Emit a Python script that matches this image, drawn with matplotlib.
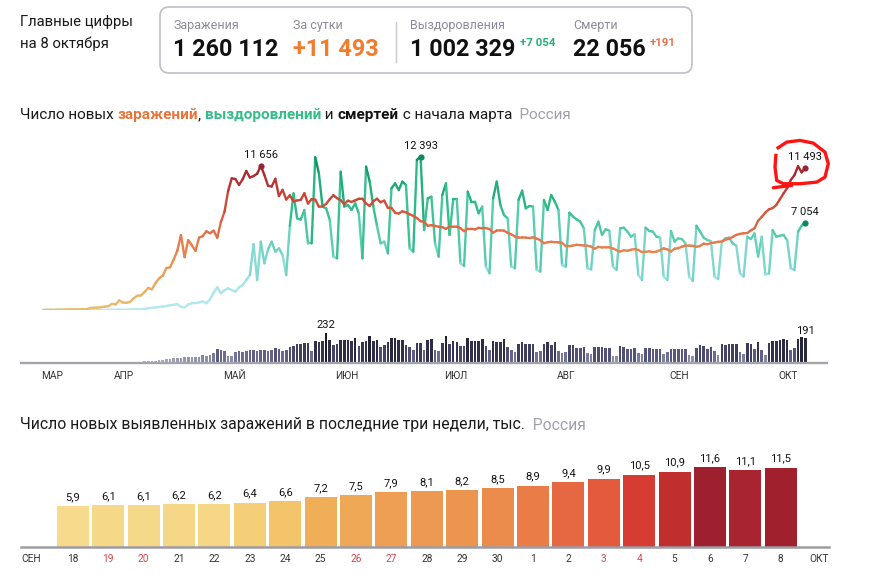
import datetime as dt
import numpy as np
import matplotlib
matplotlib.use("Agg")
import matplotlib.pyplot as plt
from matplotlib.collections import LineCollection
from matplotlib.colors import LinearSegmentedColormap, Normalize
from matplotlib.patches import FancyBboxPatch, Polygon
from matplotlib.lines import Line2D
from matplotlib.transforms import IdentityTransform

plt.rcParams['font.family'] = ['Roboto', 'DejaVu Sans']

# ---------------- данные (с 12 марта по 8 октября 2020) ----------------
start_date = dt.date(2020, 3, 12)

cases = [
    # март 12-31
    6, 11, 14, 4, 30, 21, 33, 52, 54, 53, 61, 71, 57, 163, 182, 196, 228, 270, 302, 500,
    # апрель
    440, 771, 601, 582, 658, 954, 1154, 1175, 1459, 1786, 1667, 2186, 2558, 2774, 3388,
    3448, 4070, 4785, 6060, 4268, 5642, 5236, 4774, 5849, 5966, 6361, 6198, 6411, 5841, 7099,
    # май
    7933, 9623, 10633, 10581, 10102, 10559, 11231, 10699, 10817, 11012, 11656, 10899, 10028,
    9974, 10598, 9200, 9709, 8926, 9263, 8764, 8849, 8894, 9434, 8599, 8946, 8915, 8338, 8371,
    8572, 8952, 9268,
    # июнь
    9035, 8863, 8536, 8831, 8726, 8855, 8984, 8985, 8595, 8404, 8779, 8987, 8706, 8835, 8246,
    8248, 7843, 7790, 7972, 7889, 7728, 7600, 7425, 7176, 7113, 6800, 6852, 6791, 6719, 6693,
    # июль
    6556, 6760, 6718, 6736, 6611, 6368, 6562, 6562, 6509, 6635, 6611, 6615, 6537, 6248, 6422,
    6428, 6406, 6234, 6109, 5940, 5842, 5862, 5848, 5811, 5871, 5765, 5635, 5395, 5475, 5509, 5482,
    # август
    5462, 5427, 5159, 5159, 5204, 5267, 5241, 5212, 5189, 5118, 4945, 5102, 5057, 5065, 5061,
    4969, 4839, 4718, 4828, 4785, 4870, 4921, 4852, 4676, 4696, 4744, 4676, 4711, 4829, 4980, 4897,
    # сентябрь
    4729, 4952, 4995, 5110, 5205, 5195, 5185, 5099, 5172, 5363, 5310, 5406, 5449, 5509, 5529,
    5670, 5762, 5905, 6065, 6148, 6196, 6215, 6431, 6595, 7212, 7523, 7867, 8135, 8232, 8481,
    # октябрь 1-8
    8945, 9412, 9859, 10499, 10888, 11615, 11115, 11493,
]

recovered = [
    0, 0, 1, 0, 3, 0, 1, 3, 5, 0, 2, 0, 9, 4, 13, 5, 12, 1, 17, 23,
    20, 45, 19, 24, 35, 45, 62, 52, 92, 150,
    180, 210, 250, 280, 320, 380, 420, 480, 250, 220,
    450, 540, 540, 620, 700, 540, 860, 1400, 1830, 1350,
    1600, 1750, 1600, 1480, 1830, 2000, 2420, 2830, 5330, 2420,
    5520, 3770, 4900, 5520, 4710, 4980, 4440, 2830, 6800, 9420,
    7400, 7300, 8080, 5380, 5380, 12330, 11040, 8350, 8210, 7270,
    4310, 4170, 11170, 8350, 8480, 8080, 8620, 7800, 4170, 11580,
    10370, 8350, 6800, 5380, 5520, 4580, 9830, 10230, 9690, 10370,
    10100, 4980, 4710, 12120, 12393, 6460, 9020, 9150, 5380, 4310,
    9290, 10230, 6060, 8940, 8940, 3770, 3550, 9560, 8750, 8750,
    7810, 8350, 3500, 2960, 9020, 10370, 8480, 7670, 7400, 3500,
    3370, 8890, 9640, 8210, 8400, 8350, 3230, 3100, 8890, 8080,
    9290, 8750, 8080, 3630, 3500, 7860, 7540, 7320, 7130, 6600,
    3370, 3280, 6460, 7130, 6060, 6520, 6410, 3500, 3230, 6600,
    6650, 6330, 5920, 6110, 2830, 2420, 6650, 6380, 6330, 5920,
    5840, 2690, 2420, 6380, 5520, 5790, 5730, 5380, 2690, 2340,
    6810, 6330, 5840, 5650, 5570, 2690, 2500, 5520, 5790, 5840,
    5380, 5200, 2960, 2690, 5920, 5730, 6190, 4310, 5920, 2880,
    2950, 6460, 5920, 6000, 6060, 5650, 3370, 3230, 6330, 6810,
    7054,
]

deaths = [
    0, 0, 0, 0, 0, 0, 0, 1, 0, 0,
    0, 0, 0, 1, 0, 1, 1, 1, 2, 8,
    2, 8, 6, 4, 2, 11, 7, 5, 13, 13,
    12, 18, 24, 22, 28, 33, 36, 40, 42, 45,
    48, 45, 50, 48, 65, 52, 62, 77, 108, 98,
    90, 57, 57, 83, 93, 88, 90, 98, 103, 90,
    98, 103, 90, 98, 116, 108, 90, 103, 124, 134,
    147, 147, 155, 155, 90, 173, 163, 168, 232, 181,
    138, 145, 178, 180, 176, 170, 197, 130, 165, 171,
    212, 174, 181, 124, 142, 160, 194, 194, 180, 175,
    142, 125, 103, 155, 155, 103, 175, 188, 103, 90,
    155, 212, 147, 168, 163, 134, 134, 194, 173, 173,
    173, 186, 129, 103, 173, 160, 163, 186, 124, 98,
    83, 150, 160, 150, 150, 147, 83, 90, 147, 165,
    142, 160, 93, 77, 83, 139, 137, 116, 116, 124,
    77, 72, 126, 126, 124, 116, 116, 57, 52, 129,
    121, 108, 111, 116, 77, 70, 116, 114, 108, 108,
    108, 70, 83, 111, 111, 111, 111, 111, 65, 52,
    116, 142, 129, 111, 121, 90, 59, 150, 139, 145,
    145, 150, 83, 72, 155, 150, 108, 165, 103, 65,
    155, 173, 168, 181, 186, 176, 103, 116, 186, 201,
    191,
]

total_cases = 1260112
total_recovered = 1002329
total_deaths = 22056

month_names = {3: "МАР", 4: "АПР", 5: "МАЙ", 6: "ИЮН", 7: "ИЮЛ", 8: "АВГ", 9: "СЕН", 10: "ОКТ"}
month_gen = {10: "октября"}
last_days = 21  # три недели

# ---------------- оформление ----------------
W, H = 869, 582
X0, DAY = 43, 3.63          # пиксель первого дня и шаг по дням
K_PX = 12.38 / 1000         # пикселей на одно заражение
D_PX = 30 / 232             # пикселей на одну смерть

fig = plt.figure(figsize=(W / 100, H / 100), dpi=100)
fig.patch.set_facecolor('white')


def axes_px(l, t, r, b):
    return fig.add_axes([l / W, 1 - b / H, (r - l) / W, (b - t) / H])


def txt(x, y, s, **kw):
    kw.setdefault('va', 'center')
    return fig.text(x / W, 1 - y / H, s, **kw)


def fmt(n):
    return f"{n:,}".replace(",", " ")


def rich(x, y, parts, size):
    r = fig.canvas.get_renderer()
    for s, c, w in parts:
        t = txt(x, y, s, color=c, fontsize=size, fontweight=w, ha='left')
        x += t.get_window_extent(r).width


n_days = len(cases)
last_date = start_date + dt.timedelta(days=n_days - 1)

# ---- шапка ----
txt(20, 22, "Главные цифры", fontsize=10.7, color='#1a1a1a')
txt(20, 44, f"на {last_date.day} {month_gen[last_date.month]}", fontsize=10.7, color='#1a1a1a')

box = FancyBboxPatch((160, H - 73), 532, 66, boxstyle="round,pad=0,rounding_size=9",
                     transform=IdentityTransform(), facecolor='white',
                     edgecolor='#bfc0c8', linewidth=1.2)
fig.add_artist(box)
fig.add_artist(Line2D([396 / W, 396 / W], [1 - 22 / H, 1 - 62 / H], color='#c8c8d0', lw=1))

grey = '#8b8b98'
txt(173, 25, "Заражения", fontsize=9, color=grey)
txt(293, 25, "За сутки", fontsize=9, color=grey)
txt(410, 25, "Выздоровления", fontsize=9, color=grey)
txt(573, 25, "Смерти", fontsize=9, color=grey)

big = dict(fontsize=16.8, fontweight='bold')
txt(173, 49, fmt(total_cases), color='#111111', **big)
txt(293, 49, "+" + fmt(cases[-1]), color='#f37b2b', **big)
txt(410, 49, fmt(total_recovered), color='#111111', **big)
txt(520, 43, "+" + fmt(recovered[-1]), color='#2aab78', fontsize=8.2, fontweight='bold')
txt(573, 49, fmt(total_deaths), color='#111111', **big)
txt(650, 43, "+" + fmt(deaths[-1]), color='#f0704a', fontsize=8.2, fontweight='bold')

# ---- заголовок графика ----
rich(20, 115, [("Число новых ", '#1a1a1a', 'normal'),
               ("заражений", '#e8743b', 'bold'),
               (", ", '#1a1a1a', 'normal'),
               ("выздоровлений", '#35bd88', 'bold'),
               (" и ", '#1a1a1a', 'normal'),
               ("смертей", '#111111', 'bold'),
               (" с начала марта", '#1a1a1a', 'normal'),
               ("  Россия", '#a0a0aa', 'normal')], 11)

# ---- линии ----
ax = axes_px(21, 140, 827, 310)
xlim = ((21 - X0) / DAY, (827 - X0) / DAY)
ax.set_xlim(*xlim)
ax.set_ylim(0, 170 / K_PX)
ax.axis('off')

cm_cases = LinearSegmentedColormap.from_list('cases', [
    (0.0, '#eabd6e'), (0.17, '#e9aa5e'), (0.35, '#e78c4f'), (0.5, '#e4744a'),
    (0.62, '#dc5e40'), (0.75, '#cc4636'), (0.88, '#b02f31'), (1.0, '#98222f')])
cm_rec = LinearSegmentedColormap.from_list('rec', [
    (0.0, '#b6e9f2'), (0.17, '#a8e3ea'), (0.3, '#8fdcda'), (0.42, '#69d1be'),
    (0.55, '#4bc8a4'), (0.7, '#2fbb89'), (0.85, '#1ca873'), (1.0, '#0d8f5f')])
norm_k = Normalize(0, 12000)


def grad_line(a, y, cmap, z):
    y = np.asarray(y, dtype=float)
    x = np.arange(len(y))
    pts = np.column_stack([x, y])
    segs = np.stack([pts[:-1], pts[1:]], axis=1)
    mid = (y[:-1] + y[1:]) / 2
    lc = LineCollection(segs, colors=cmap(norm_k(mid)), linewidths=1.7,
                        capstyle='round', joinstyle='round', zorder=z)
    a.add_collection(lc)


grad_line(ax, recovered, cm_rec, 2)
grad_line(ax, cases, cm_cases, 3)


def mark(a, i, v, color, label):
    a.scatter([i], [v], s=20, color=color, zorder=6, linewidths=0)
    a.annotate(label, (i, v), xytext=(0, 4), textcoords='offset points',
               ha='center', va='bottom', fontsize=8, color='#111111', zorder=7)


i_c = int(np.argmax(cases))
i_r = int(np.argmax(recovered))
mark(ax, i_c, cases[i_c], '#9b2335', fmt(cases[i_c]))
mark(ax, i_r, recovered[i_r], '#0b8a5a', fmt(recovered[i_r]))
mark(ax, n_days - 1, cases[-1], '#9b2335', fmt(cases[-1]))
mark(ax, n_days - 1, recovered[-1], '#0b8a5a', fmt(recovered[-1]))

# ---- смерти ----
axd = axes_px(21, 323, 827, 363)
axd.set_xlim(*xlim)
axd.set_ylim(0, 40 / D_PX)
axd.axis('off')
cm_d = LinearSegmentedColormap.from_list('d', ['#bdbdd2', '#8a8aa8', '#53537a', '#2f2f4a', '#191928'])
norm_d = Normalize(0, 232)
axd.bar(np.arange(n_days), deaths, width=0.72, color=cm_d(norm_d(np.array(deaths))), linewidth=0)
axd.axhline(0, color='#a3a3ab', lw=1.7, clip_on=False)
i_d = int(np.argmax(deaths))
for i in (i_d, n_days - 1):
    axd.annotate(str(deaths[i]), (i, deaths[i]), xytext=(0, 2), textcoords='offset points',
                 ha='center', va='bottom', fontsize=8, color='#111111')

for m in range(start_date.month, last_date.month + 1):
    idx = max((dt.date(2020, m, 1) - start_date).days, 0)
    axd.text(idx - 0.5, -13 / 40, month_names[m], transform=axd.get_xaxis_transform(),
             ha='left', va='center', fontsize=7.3, color='#333333')

# ---- нижний график: три недели ----
rich(20, 425, [("Число новых выявленных заражений в последние три недели, тыс.", '#1a1a1a', 'normal'),
               ("  Россия", '#a0a0aa', 'normal')], 11.3)

week_vals = [round(v / 1000, 1) for v in cases[-last_days:]]
week_dates = [last_date - dt.timedelta(days=last_days - 1 - k) for k in range(last_days)]

axb = axes_px(21, 440, 829, 547)
axb.set_xlim((21 - 72.8) / 35.4, (829 - 72.8) / 35.4)
axb.set_ylim(0, 107 / 6.9)
axb.axis('off')

cm_b = LinearSegmentedColormap.from_list('b', [
    (0.0, '#f7da8c'), (0.053, '#f6d787'), (0.123, '#f3c468'), (0.228, '#f0ae58'),
    (0.351, '#ee9f53'), (0.456, '#eb8c4c'), (0.526, '#e97c47'), (0.614, '#e66842'),
    (0.702, '#e35a3c'), (0.807, '#d63c32'), (0.877, '#c12e2e'), (0.912, '#a82430'),
    (1.0, '#9e1f2e')])
norm_b = Normalize(min(week_vals), max(week_vals))
xb = np.arange(last_days)
axb.bar(xb, week_vals, width=0.9, color=cm_b(norm_b(np.array(week_vals))), linewidth=0)
axb.axhline(0, color='#9c9ca4', lw=1.8, clip_on=False)
for k, v in enumerate(week_vals):
    axb.annotate(f"{v:.1f}".replace('.', ','), (k, v), xytext=(0, 3), textcoords='offset points',
                 ha='center', va='bottom', fontsize=8, color='#111111')
    d = week_dates[k]
    axb.text(k, -12 / 107, str(d.day), transform=axb.get_xaxis_transform(), ha='center', va='center',
             fontsize=7.3, color='#d9464a' if d.weekday() >= 5 else '#333333')
axb.text(0, -12 / 107, month_names[week_dates[0].month], transform=axb.transAxes,
         ha='left', va='center', fontsize=7.3, color='#333333')
axb.text(1, -12 / 107, month_names[week_dates[-1].month], transform=axb.transAxes,
         ha='right', va='center', fontsize=7.3, color='#333333')

# ---- красный обвод вокруг последнего значения ----
px, py = ax.transData.transform((n_days - 1, cases[-1]))
loop = np.array([(-28.6, 19), (-18.6, 25.6), (-5.3, 27.3), (8, 24.6), (19.7, 15.6), (23, 4),
                 (19.7, -9.4), (11.4, -14.4), (-5.3, -16), (-22, -16), (-28.6, -12.7),
                 (-30.3, 0.6), (-29.3, 14), (-28.6, 19)])
fig.add_artist(Polygon(loop + [px, py], closed=False, fill=False, edgecolor='#ff1414', lw=2.4,
                       joinstyle='round', transform=IdentityTransform()))
tail = np.array([(-32, -20), (-13.6, -17.7)])
fig.add_artist(Line2D(tail[:, 0] + px, tail[:, 1] + py, color='#ff1414', lw=2.4,
                      solid_capstyle='round', transform=IdentityTransform()))

fig.savefig("out.png", dpi=100, facecolor='white')
